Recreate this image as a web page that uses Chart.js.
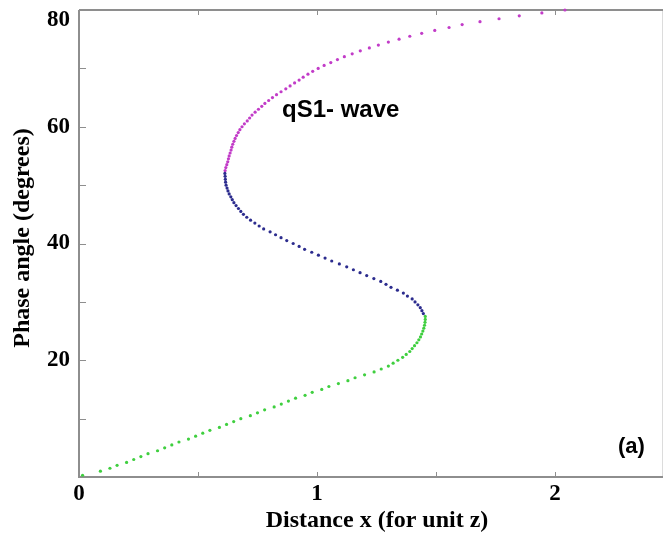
<!DOCTYPE html>
<html>
<head>
<meta charset="utf-8">
<script src="https://cdn.jsdelivr.net/npm/chart.js@4/dist/chart.umd.min.js"></script>
<style>
  html, body { margin: 0; padding: 0; background: #fff; }
  #wrap { width: 665px; height: 537px; }
</style>
</head>
<body>
<div id="wrap"><canvas id="chart" width="665" height="537"></canvas></div>
<script>
// qS1 wave: distance x (unit z) against phase angle, three branches
const greenX = [0.015, 0.09, 0.13, 0.16, 0.20, 0.23, 0.26, 0.29, 0.33, 0.36, 0.39, 0.42, 0.46, 0.49,
  0.52, 0.55, 0.59, 0.62, 0.65, 0.68, 0.72, 0.75, 0.78, 0.82, 0.85, 0.88, 0.91, 0.95, 0.98, 1.02,
  1.05, 1.09, 1.13, 1.16, 1.20, 1.24, 1.27, 1.30, 1.32, 1.34, 1.36, 1.375, 1.39, 1.40, 1.41, 1.42,
  1.428, 1.435, 1.44, 1.445, 1.449, 1.452, 1.454, 1.455, 1.455];
const greenY = [0.3, 1, 1.5, 2, 2.5, 3, 3.5, 4, 4.5, 5, 5.5, 6, 6.5, 7, 7.5, 8, 8.5, 9, 9.5, 10,
  10.5, 11, 11.5, 12, 12.5, 13, 13.5, 14, 14.5, 15, 15.5, 16, 16.5, 17, 17.5, 18, 18.5, 19, 19.5,
  20, 20.5, 21, 21.5, 22, 22.5, 23, 23.5, 24, 24.5, 25, 25.5, 26, 26.5, 27, 27.5];

const blueX = [1.447, 1.441, 1.434, 1.424, 1.412, 1.400, 1.380, 1.363, 1.338, 1.311, 1.290, 1.268,
  1.239, 1.209, 1.181, 1.153, 1.125, 1.094, 1.062, 1.034, 1.006, 0.978, 0.948, 0.925, 0.900, 0.873,
  0.849, 0.826, 0.803, 0.776, 0.757, 0.739, 0.721, 0.705, 0.691, 0.680, 0.670, 0.660, 0.651, 0.644,
  0.638, 0.631, 0.626, 0.622, 0.618, 0.616, 0.615, 0.614, 0.613];
const blueY = [28, 28.5, 29, 29.5, 30, 30.5, 31, 31.5, 32, 32.5, 33, 33.5, 34, 34.5, 35, 35.5, 36,
  36.5, 37, 37.5, 38, 38.5, 39, 39.5, 40, 40.5, 41, 41.5, 42, 42.5, 43, 43.5, 44, 44.5, 45, 45.5,
  46, 46.5, 47, 47.5, 48, 48.5, 49, 49.5, 50, 50.5, 51, 51.5, 52];

const pinkX = [0.614, 0.617, 0.621, 0.625, 0.628, 0.631, 0.635, 0.639, 0.642, 0.646, 0.651, 0.656,
  0.662, 0.669, 0.676, 0.685, 0.695, 0.707, 0.717, 0.727, 0.740, 0.754, 0.768, 0.781, 0.797, 0.813,
  0.830, 0.849, 0.869, 0.887, 0.906, 0.925, 0.942, 0.962, 0.982, 1.005, 1.030, 1.058, 1.086, 1.115,
  1.148, 1.182, 1.220, 1.258, 1.300, 1.345, 1.390, 1.440, 1.495, 1.555, 1.610, 1.685, 1.765, 1.850,
  1.945, 2.042];
const pinkY = [52.5, 53, 53.5, 54, 54.5, 55, 55.5, 56, 56.5, 57, 57.5, 58, 58.5, 59, 59.5, 60, 60.5,
  61, 61.5, 62, 62.5, 63, 63.5, 64, 64.5, 65, 65.5, 66, 66.5, 67, 67.5, 68, 68.5, 69, 69.5, 70,
  70.5, 71, 71.5, 72, 72.5, 73, 73.5, 74, 74.5, 75, 75.5, 76, 76.5, 77, 77.5, 78, 78.5, 79, 79.5, 80];

const xTickLabels = [0, 1, 2];
const yTickLabels = [20, 40, 60, 80];

const toPoints = (xs, ys) => xs.map((x, i) => ({ x: x, y: ys[i] }));

// axis box, inward ticks, tick labels and titles
const frame = {
  id: 'frame',
  beforeDatasetsDraw(chart) {
    const { ctx, chartArea: a, scales: { x, y } } = chart;
    ctx.save();
    ctx.strokeStyle = '#dcdcdc';
    ctx.lineWidth = 1;
    ctx.beginPath();
    ctx.moveTo(a.right - 0.5, a.top);
    ctx.lineTo(a.right - 0.5, a.bottom);
    ctx.stroke();

    ctx.strokeStyle = '#8e8e8e';
    ctx.lineWidth = 2;
    ctx.beginPath();
    ctx.moveTo(a.left, a.top);
    ctx.lineTo(a.left, a.bottom);
    ctx.lineTo(a.right, a.bottom);
    ctx.moveTo(a.left, a.top);
    ctx.lineTo(a.right, a.top);
    ctx.stroke();

    ctx.lineWidth = 1;
    ctx.beginPath();
    for (let v = 0.5; v < x.max; v += 0.5) {
      const px = Math.round(x.getPixelForValue(v)) + 0.5;
      ctx.moveTo(px, a.bottom);
      ctx.lineTo(px, a.bottom - 5);
      ctx.moveTo(px, a.top);
      ctx.lineTo(px, a.top + 5);
    }
    for (let v = 10; v < y.max; v += 10) {
      const py = Math.round(y.getPixelForValue(v)) + 0.5;
      ctx.moveTo(a.left, py);
      ctx.lineTo(a.left + 7, py);
    }
    ctx.stroke();
    ctx.restore();
  },
  afterDraw(chart) {
    const { ctx, chartArea: a, scales: { x, y } } = chart;
    ctx.save();
    ctx.fillStyle = '#000';
    ctx.font = 'bold 23px "Liberation Serif", "Times New Roman", serif';
    ctx.textBaseline = 'middle';
    ctx.textAlign = 'right';
    yTickLabels.forEach(v => {
      const py = Math.max(y.getPixelForValue(v), 20);
      ctx.fillText(String(v), a.left - 9, py);
    });
    ctx.textAlign = 'center';
    xTickLabels.forEach(v => {
      ctx.fillText(String(v), x.getPixelForValue(v), a.bottom + 17);
    });

    ctx.font = 'bold 24px "Liberation Serif", "Times New Roman", serif';
    ctx.fillText('Distance x (for unit z)', 377, 521);
    ctx.translate(23, 238);
    ctx.rotate(-Math.PI / 2);
    ctx.fillText('Phase angle (degrees)', 0, 0);
    ctx.restore();

    ctx.save();
    ctx.fillStyle = '#000';
    ctx.textBaseline = 'alphabetic';
    ctx.textAlign = 'left';
    ctx.font = 'bold 24px "Liberation Sans", Arial, sans-serif';
    ctx.fillText('qS1- wave', 282, 117);
    ctx.font = 'bold 22px "Liberation Sans", Arial, sans-serif';
    ctx.fillText('(a)', 618, 453);
    ctx.restore();
  }
};

const dotStyle = { showLine: false, pointRadius: 1.6, pointHoverRadius: 1.6, borderWidth: 0, clip: false };

new Chart(document.getElementById('chart'), {
  type: 'scatter',
  data: {
    datasets: [
      { label: 'green', data: toPoints(greenX, greenY), backgroundColor: '#3fcf3f', ...dotStyle },
      { label: 'blue', data: toPoints(blueX, blueY), backgroundColor: '#2c2c8e', ...dotStyle },
      { label: 'magenta', data: toPoints(pinkX, pinkY), backgroundColor: '#c23cc8', ...dotStyle }
    ]
  },
  options: {
    responsive: false,
    animation: false,
    events: [],
    layout: { padding: { left: 79, top: 10, right: 2, bottom: 60 } },
    plugins: { legend: { display: false }, tooltip: { enabled: false } },
    scales: {
      x: { type: 'linear', min: 0, max: 2.454, display: false },
      y: { type: 'linear', min: 0, max: 80, display: false }
    }
  },
  plugins: [frame]
});
</script>
</body>
</html>
